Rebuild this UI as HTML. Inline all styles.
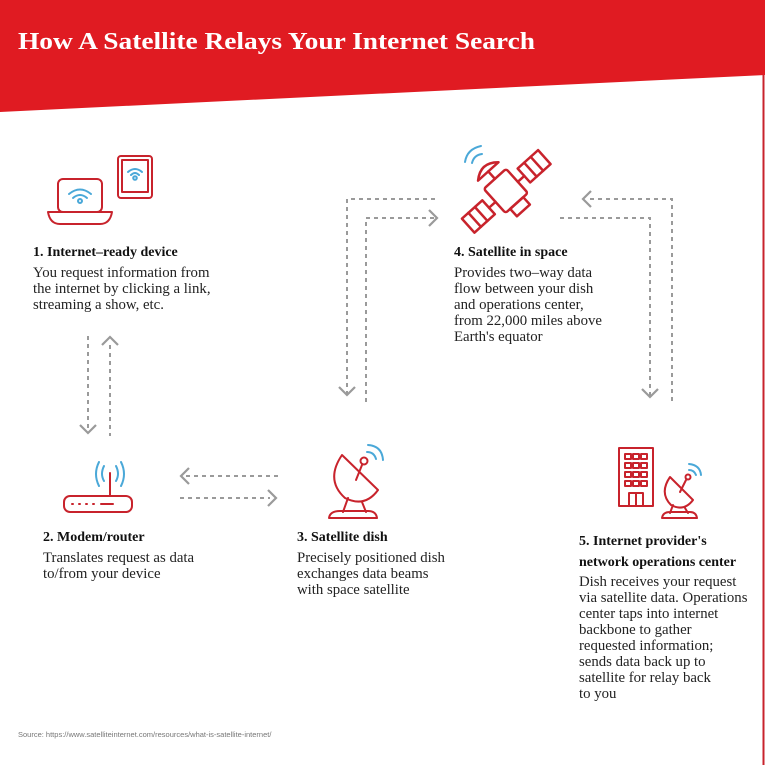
<!DOCTYPE html>
<html><head><meta charset="utf-8"><style>
html,body{margin:0;padding:0;background:#fff}
svg{display:block}
.h{font-family:"Liberation Serif",serif;font-weight:bold;font-size:14px;fill:#111}
.b{font-family:"Liberation Serif",serif;font-size:14.8px;fill:#222}
.r{fill:none;stroke:#c8232c;stroke-width:2;stroke-linejoin:round;stroke-linecap:round}
.w{fill:none;stroke:#4aa8d8;stroke-width:2;stroke-linecap:round}
.d{fill:none;stroke:#9a9a9a;stroke-width:2;stroke-dasharray:4 4}
.a{fill:none;stroke:#9a9a9a;stroke-width:2.2}
</style></head><body>
<svg width="765" height="765" viewBox="0 0 765 765">
<rect x="0" y="0" width="765" height="765" fill="#fff"/>
<polygon points="0,0 765,0 765,75 0,112" fill="#e01b22"/>
<line x1="763.5" y1="75" x2="763.5" y2="765" stroke="#c8232c" stroke-width="2"/>
<text x="18" y="49" font-family="'Liberation Serif',serif" font-weight="bold" font-size="24" fill="#fff" textLength="517" lengthAdjust="spacingAndGlyphs">How A Satellite Relays Your Internet Search</text>

<g>
<rect class="r" x="58" y="179" width="44" height="33" rx="5"/>
<path class="r" d="M48,212 H112 Q110,224 100,224 H60 Q50,224 48,212 Z"/>
<path class="w" d="M69,194 Q80,185 91,194 M73,198 Q80,192 87,198"/><circle class="w" cx="80" cy="201" r="2"/>
</g>
<g>
<rect class="r" x="118" y="156" width="34" height="42" rx="3"/>
<rect class="r" x="122" y="160" width="26" height="32" stroke-width="1.5"/>
<path class="w" d="M128,172 Q135,166 142,172 M131,175 Q135,171 139,175" stroke-width="1.5"/><circle class="w" cx="135" cy="178" r="1.8" stroke-width="1.5"/>
</g>
<text class="h" x="33" y="256">1. Internet–ready device</text>
<g class="b"><text x="33" y="277">You request information from</text><text x="33" y="293">the internet by clicking a link,</text><text x="33" y="309">streaming a show, etc.</text></g>

<g>
<line class="d" x1="88" y1="336" x2="88" y2="432"/><path class="a" d="M80,425 L88,433 L96,425"/>
<line class="d" x1="110" y1="345" x2="110" y2="436"/><path class="a" d="M102,345 L110,337 L118,345"/>
</g>

<g>
<rect class="r" x="64" y="496" width="68" height="16" rx="6"/>
<line class="r" x1="110" y1="496" x2="110" y2="473"/>
<path class="r" d="M72,504 h1 M79,504 h1 M86,504 h1 M93,504 h1 M101,504 h12" stroke-width="2.2"/>
<path class="w" d="M104,466 Q100,474 104,481 M116,466 Q120,474 116,481 M99,462 Q93,474 99,486 M121,462 Q127,474 121,486"/>
</g>
<text class="h" x="43" y="541">2. Modem/router</text>
<g class="b"><text x="43" y="562">Translates request as data</text><text x="43" y="578">to/from your device</text></g>

<g>
<line class="d" x1="186" y1="476" x2="278" y2="476"/><path class="a" d="M189,468 L181,476 L189,484"/>
<line class="d" x1="180" y1="498" x2="270" y2="498"/><path class="a" d="M268,490 L276,498 L268,506"/>
</g>

<g>
<path class="r" d="M342,455 Q325,480 345,498 Q365,508 378,490 Z"/>
<line class="r" x1="356" y1="480" x2="362" y2="465"/><circle class="r" cx="364" cy="461" r="3.5"/>
<path class="r" d="M348,498 L343,512 M362,502 L366,512 M329,518 Q330,511 340,511 H368 Q376,511 377,518 Z"/>
<path class="w" d="M367,452 Q374,452 376,459 M368,445 Q382,446 383,460"/>
</g>
<text class="h" x="297" y="541">3. Satellite dish</text>
<g class="b"><text x="297" y="562">Precisely positioned dish</text><text x="297" y="578">exchanges data beams</text><text x="297" y="594">with space satellite</text></g>

<g>
<path class="d" d="M347,395 V199 H437"/><path class="a" d="M339,387 L347,395 L355,387"/>
<path class="d" d="M366,402 V218 H436"/><path class="a" d="M429,210 L437,218 L429,226"/>
</g>

<g transform="translate(505 190) scale(1.25) rotate(-42) translate(-505 -190)">
<rect class="r" x="493" y="178" width="24" height="26" rx="2" stroke-width="1.7"/>
<rect class="r" x="498" y="204" width="14" height="8" stroke-width="1.7"/>
<rect class="r" x="464" y="184" width="22" height="15" stroke-width="1.7"/><line class="r" x1="486" y1="192" x2="493" y2="192" stroke-width="1.7"/>
<path class="r" d="M471,184 v15 M478,184 v15" stroke-width="1.3"/>
<rect class="r" x="524" y="184" width="22" height="15" stroke-width="1.7"/><line class="r" x1="517" y1="192" x2="524" y2="192" stroke-width="1.7"/>
<path class="r" d="M531,184 v15 M538,184 v15" stroke-width="1.3"/>
<path class="r" d="M494,170 Q505,160 516,170 Z" stroke-width="1.7"/><line class="r" x1="505" y1="170" x2="505" y2="178" stroke-width="1.7"/>
</g>
<path class="w" d="M472,163 Q474,155 482,154 M465,162 Q467,149 481,146"/>
<text class="h" x="454" y="256">4. Satellite in space</text>
<g class="b"><text x="454" y="277">Provides two–way data</text><text x="454" y="293">flow between your dish</text><text x="454" y="309">and operations center,</text><text x="454" y="325">from 22,000 miles above</text><text x="454" y="341">Earth's equator</text></g>

<g>
<path class="d" d="M590,199 H672 V404"/><path class="a" d="M591,191 L583,199 L591,207"/>
<path class="d" d="M560,218 H650 V397"/><path class="a" d="M642,389 L650,397 L658,389"/>
</g>

<g>
<rect class="r" x="619" y="448" width="34" height="58"/>
<path class="r" d="M625,454 h6v5h-6z M633,454 h6v5h-6z M641,454 h6v5h-6z M625,463 h6v5h-6z M633,463 h6v5h-6z M641,463 h6v5h-6z M625,472 h6v5h-6z M633,472 h6v5h-6z M641,472 h6v5h-6z M625,481 h6v5h-6z M633,481 h6v5h-6z M641,481 h6v5h-6z" stroke-width="1.5"/>
<path class="r" d="M629,506 V493 H643 V506 M636,493 V506" stroke-width="1.5"/>
<path class="r" d="M670,477 Q659,493 671,505 Q684,512 693,500 Z"/>
<line class="r" x1="680" y1="492" x2="686" y2="480" stroke-width="1.5"/><circle class="r" cx="688" cy="477" r="2.5" stroke-width="1.5"/>
<path class="r" d="M673,505 L670,513 M685,508 L688,513 M662,518 Q663,512 670,512 H690 Q696,512 697,518 Z"/>
<path class="w" d="M689,470 Q694,470 696,475 M689,464 Q700,465 701,475" stroke-width="1.8"/>
</g>
<text class="h" x="579" y="545">5. Internet provider's</text>
<text class="h" x="579" y="566">network operations center</text>
<g class="b"><text x="579" y="586">Dish receives your request</text><text x="579" y="602">via satellite data. Operations</text><text x="579" y="618">center taps into internet</text><text x="579" y="634">backbone to gather</text><text x="579" y="650">requested information;</text><text x="579" y="666">sends data back up to</text><text x="579" y="682">satellite for relay back</text><text x="579" y="698">to you</text></g>

<text x="18" y="737" font-family="'Liberation Sans',sans-serif" font-size="7.5" fill="#777">Source: https://www.satelliteinternet.com/resources/what-is-satellite-internet/</text>
</svg>
</body></html>
